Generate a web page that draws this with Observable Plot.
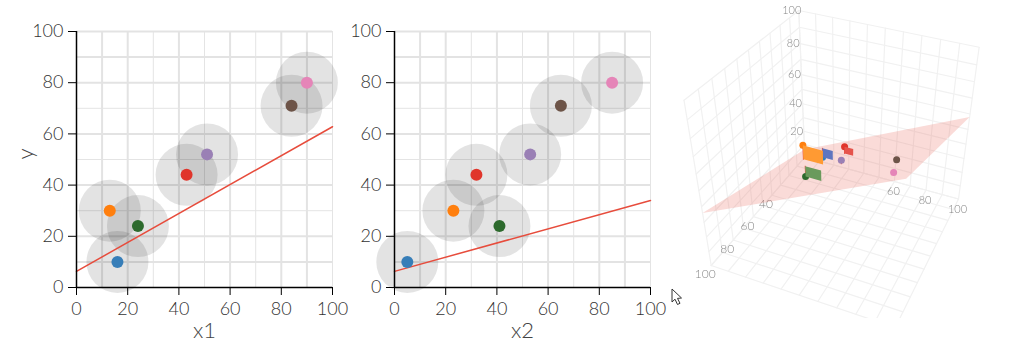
<!DOCTYPE html>
<html>
<head>
<meta charset="utf-8">
<script src="https://cdn.jsdelivr.net/npm/d3@7"></script>
<script src="https://cdn.jsdelivr.net/npm/@observablehq/plot@0.6"></script>
<style>
html,body{margin:0;padding:0;background:#fff;width:1009px;height:359px;overflow:hidden}
.p{position:absolute;top:0}
.p svg{background:transparent;display:block;max-width:none}
</style>
</head>
<body>
<div class="p" id="c" style="left:670px"></div>
<div class="p" id="a" style="left:0"></div>
<div class="p" id="b" style="left:340px"></div>
<script>
// observations
const x1 = [16, 13, 24, 43, 51, 84, 90];
const x2 = [5, 23, 41, 32, 53, 65, 85];
const y = [10, 30, 24, 44, 52, 71, 80];
const colors = ["#377eb8", "#ff7f0e", "#2d6a2d", "#e0352b", "#9a80b5", "#6d5448", "#e585b8"];
// squared-error patches in the 3D view: width along x1
const squareWidths = [6.8, 12.5, 9.5, 5, 0, 0, 0];
const squareColors = ["#5f75bf", "#ff9a33", "#6a9a5c", "#e5544c", "#9a80b5", "#6d5448", "#e585b8"];
// regression plane
const intercept = 6.3, slope1 = 0.565, slope2 = 0.277;
// plane heights at its four corners as seen in the 3D view
const planeCornerX1 = [0, 100, 100, 0];
const planeCornerX2 = [0, 0, 100, 100];
const planeCornerY = [6, 58, 90, 36];
// axes
const ticks = [0, 20, 40, 60, 80, 100];
const gridWide = [10, 20, 40, 60, 80, 90];
const gridThin = [30, 50, 70, 100];
const gridWideY = [10, 20, 40, 60, 80, 90, 100];
const gridThinY = [30, 50, 70];
const gridAll = [0, 10, 20, 30, 40, 50, 60, 70, 80, 90, 100];
const zLabels = [20, 40, 60, 80, 100];
const x1Labels = [60, 80, 100];
const x2Labels = [40, 60, 80, 100];

const font = {fontFamily: "Lato, sans-serif", fontWeight: 300, color: "#333", background: "transparent"};
const points = x1.map((_, i) => ({x1: x1[i], x2: x2[i], y: y[i], c: colors[i], s: squareColors[i], w: squareWidths[i]}));
const cursorSymbol = {draw(c) {
  c.moveTo(0, 0); c.lineTo(0, 13); c.lineTo(3, 10.2); c.lineTo(5.5, 15.5); c.lineTo(8, 14.3);
  c.lineTo(5.5, 9.4); c.lineTo(9.5, 9); c.closePath();
}};

function panel(key, slope, left, width, label, cursor) {
  return Plot.plot({
    width, height: 359, marginLeft: left, marginRight: width - left - 256,
    marginTop: 31, marginBottom: 72,
    style: font,
    x: {domain: [0, 100], label: null},
    y: {domain: [0, 100], label: null},
    marks: [
      Plot.ruleX(gridWide, {stroke: "#e3e3e3", strokeWidth: 2}),
      Plot.ruleX(gridThin, {stroke: "#e4e4e4", strokeWidth: 1}),
      Plot.ruleY(gridWideY, {stroke: "#e3e3e3", strokeWidth: 2}),
      Plot.ruleY(gridThinY, {stroke: "#e4e4e4", strokeWidth: 1}),
      Plot.dot(points, {x: key, y: "y", r: 31, fill: "#000", fillOpacity: 0.11}),
      Plot.line([0, 100], {x: d => d, y: d => intercept + slope * d, stroke: "#e74c3c", strokeWidth: 1.5}),
      Plot.dot(points, {x: key, y: "y", r: 6, fill: "c"}),
      Plot.ruleX([0], {stroke: "#000", strokeWidth: 1.5}),
      Plot.ruleY([0], {stroke: "#000", strokeWidth: 1.5}),
      Plot.axisX({ticks, tickSize: 8, tickPadding: 7, fontSize: 18, stroke: "#000", label: null, tickFormat: d => d}),
      Plot.axisY({ticks, tickSize: 8, tickPadding: 5, fontSize: 18, stroke: "#000", label: null, tickFormat: d => d}),
      Plot.text([label], {frameAnchor: "bottom", dy: 50, fontSize: 22, fill: "#444"}),
      ...(key === "x1" ? [Plot.text(["y"], {frameAnchor: "left", rotate: -90, dx: -51, fontSize: 22, fill: "#444"})] : []),
      ...(cursor ? [Plot.dot([0], {x: () => 100, y: () => 0, dx: 21.5, dy: 1.5, symbol: cursorSymbol, r: 5, fill: "#fff", stroke: "#333", strokeWidth: 1})] : [])
    ]
  });
}
document.getElementById("a").append(panel("x1", slope1, 76, 360, "x1", false));
document.getElementById("b").append(panel("x2", slope2, 54, 360, "x2", true));

// 3D panel: perspective camera of the scene, unit cube corners on the page
const cam = {O: [134.3, 156.7], X: [288, 198.5], Y: [40.7, 265], Z: [128.3, 10], wx: 0.933, wy: 0.812, wz: 0.86};
function project(a, b, c) {
  const u = a / 100, v = b / 100, t = c / 100;
  const w = 1 + u * (cam.wx - 1) + v * (cam.wy - 1) + t * (cam.wz - 1);
  const f = i => (cam.O[i] + u * (cam.wx * cam.X[i] - cam.O[i]) + v * (cam.wy * cam.Y[i] - cam.O[i]) + t * (cam.wz * cam.Z[i] - cam.O[i])) / w;
  return {px: f(0), py: f(1)};
}
const planeZ = (a, b) => intercept + slope1 * a + slope2 * b;
const seg = (id, p, q) => [{id, ...project(...p)}, {id, ...project(...q)}];
const gridLines = gridAll.flatMap(v => [
  ...seg("f1" + v, [v, 0, 0], [v, 100, 0]),
  ...seg("f2" + v, [0, v, 0], [100, v, 0]),
  ...seg("wa" + v, [v, 0, 0], [v, 0, 100]),
  ...seg("wb" + v, [0, 0, v], [100, 0, v]),
  ...seg("wc" + v, [0, v, 0], [0, v, 100]),
  ...seg("wd" + v, [0, 0, v], [0, 100, v])
]);
const planePts = planeCornerY.map((z, i) => project(planeCornerX1[i], planeCornerX2[i], z));
const squares = points.flatMap((d, i) => {
  const p = planeZ(d.x1, d.x2);
  return [[d.x1, d.y], [d.x1 + d.w, d.y], [d.x1 + d.w, p], [d.x1, p]].map(([a, c]) => ({id: i, s: d.s, ...project(a, d.x2, c)}));
});
const residuals = points.flatMap((d, i) => seg(i, [d.x1, d.x2, d.y], [d.x1, d.x2, planeZ(d.x1, d.x2)]));
const dots3 = points.map(d => ({c: d.c, ...project(d.x1, d.x2, d.y)}));
const nudge = {dx: -1.5, dy: 2};

document.getElementById("c").append(Plot.plot({
  width: 339, height: 318, margin: 0,
  style: {fontFamily: "Lato, sans-serif", fontWeight: 300, background: "transparent", filter: "blur(0.7px)"},
  x: {type: "identity", axis: null}, y: {type: "identity", axis: null},
  marks: [
    Plot.line(gridLines, {x: "px", y: "py", z: "id", stroke: "#f1f1f1", strokeWidth: 1.2}),
    Plot.text(zLabels, {x: d => project(0, 0, d).px, y: d => project(0, 0, d).py, dx: -7, fontSize: 11, fill: "#888", text: d => d}),
    Plot.text(x1Labels, {x: d => project(d, 0, 0).px, y: d => project(d, 0, 0).py, dx: -1, dy: 10, fontSize: 11, fill: "#888", text: d => d}),
    Plot.text(x2Labels, {x: d => project(0, d, 0).px, y: d => project(0, d, 0).py, dx: -6, dy: 9, fontSize: 12, fill: "#888", text: d => d}),
    Plot.line(planePts.concat(planePts[0]), {x: "px", y: "py", fill: "#e74c3c", fillOpacity: 0.2, stroke: null}),
    Plot.line(residuals, {x: "px", y: "py", z: "id", stroke: "#e74c3c", strokeWidth: 1, ...nudge}),
    Plot.dot(dots3, {x: "px", y: "py", r: 3.5, fill: "c", ...nudge}),
    Plot.line(squares, {x: "px", y: "py", z: "id", fill: "s", stroke: null, ...nudge})
  ]
}));
</script>
</body>
</html>
